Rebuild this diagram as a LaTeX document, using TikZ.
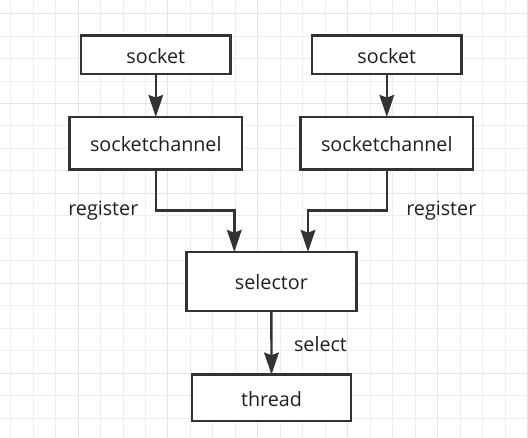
\documentclass[tikz,border=0pt]{standalone}
\usepackage{fontspec}
\setmainfont{Open Sans}
\usetikzlibrary{arrows.meta}
\definecolor{ink}{HTML}{333333}
\definecolor{txt}{HTML}{1F1F1F}
\definecolor{gridminor}{HTML}{EEEEEE}
\definecolor{gridmajor}{HTML}{E4E4E4}
\tikzset{
  box/.style={draw=ink, line width=1.8pt, fill=white, inner sep=0pt, outer sep=0pt,
    font=\fontsize{14.8pt}{17pt}\selectfont, text=txt, text height=12.6pt, text depth=0pt},
  smallbox/.style={box, minimum width=111.8pt, minimum height=28.6pt},
  chanbox/.style={box, minimum width=129.4pt, minimum height=39.4pt},
  lbl/.style={inner sep=0pt, anchor=base, font=\fontsize{14.8pt}{17pt}\selectfont, text=txt},
  arr/.style={draw=ink, line width=1.8pt, -{Stealth[length=16.5pt, width=11pt, inset=2pt]}},
  gmin/.style={draw=gridminor, line width=0.75pt},
  gmaj/.style={draw=gridmajor, line width=0.75pt},
}
\begin{document}
\begin{tikzpicture}[x=0.75pt, y=-0.75pt]
\useasboundingbox (0,0) rectangle (528,438);
\fill[white] (0,0) rectangle (528,438);
% grid
\foreach \k in {0,...,23} {
  \pgfmathsetmacro{\xx}{10.7+22.47*\k}
  \pgfmathtruncatemacro{\m}{mod(\k,4)}
  \ifnum\m=3 \draw[gmaj] (\xx,0) -- (\xx,438); \else \draw[gmin] (\xx,0) -- (\xx,438); \fi
}
\foreach \k in {0,...,19} {
  \pgfmathsetmacro{\yy}{13.6+22.47*\k}
  \pgfmathtruncatemacro{\m}{mod(\k,4)}
  \ifnum\m=0 \draw[gmaj] (0,\yy) -- (528,\yy); \else \draw[gmin] (0,\yy) -- (528,\yy); \fi
}
% nodes
\node[smallbox] (ls) at (155.8,54.7) {socket};
\node[chanbox] (lsc) at (155.8,143.2) {socketchannel};
\node[smallbox, minimum width=112.3pt] (rs) at (386.8,54.7) {socket};
\node[chanbox] (rsc) at (386.8,143.2) {socketchannel};
\node[box, minimum width=127.4pt, minimum height=44.3pt] (sel) at (271.4,281.5) {selector};
\node[box, minimum width=119.3pt, minimum height=34.9pt] (thr) at (271.5,397.8) {thread};
% connectors
\draw[arr] (ls.south) -- (lsc.north);
\draw[arr] (rs.south) -- (rsc.north);
\coordinate (lk) at (234.3,210.7);
\coordinate (rk) at (308,210.7);
\draw[arr] (lsc.south) |- (lk) -- (lk |- sel.north);
\draw[arr] (rsc.south) |- (rk) -- (rk |- sel.north);
\draw[arr] (sel.south) -- (thr.north);
% labels
\node[lbl] (lr) at (103.3,215.7) {register};
\node[lbl] (rr) at (441.3,215.7) {register};
\node[lbl] (sl) at (320.5,351.7) {select};
\end{tikzpicture}
\end{document}
